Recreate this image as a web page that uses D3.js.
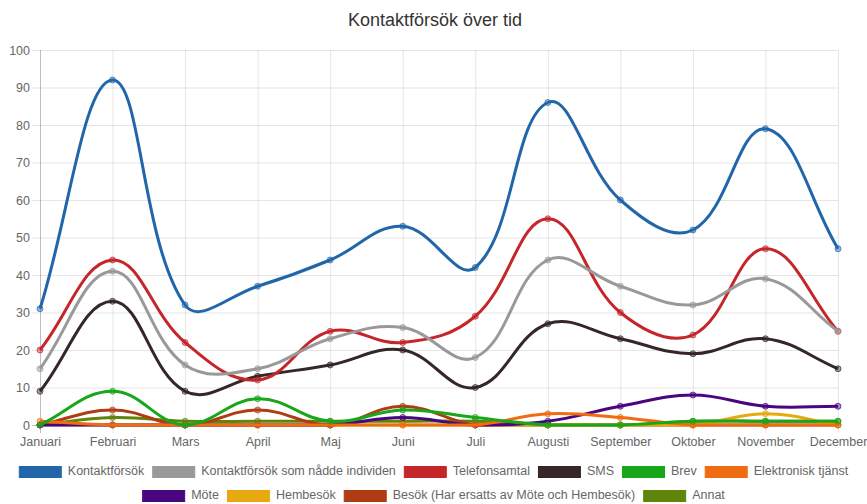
<!DOCTYPE html>
<html>
<head>
<meta charset="utf-8">
<script src="https://cdn.jsdelivr.net/npm/d3@7"></script>
<style>
  html, body { margin: 0; padding: 0; background: #fff; }
  svg { display: block; font-family: "Liberation Sans", Arial, Helvetica, sans-serif; }
</style>
</head>
<body>
<svg id="chart" width="867" height="504"></svg>
<script>
const title = "Kontaktförsök över tid";
const months = ["Januari","Februari","Mars","April","Maj","Juni","Juli","Augusti","September","Oktober","November","December"];
const yTicks = [0,10,20,30,40,50,60,70,80,90,100];

const seriesNames = ["Kontaktförsök","Kontaktförsök som nådde individen","Telefonsamtal","SMS","Brev","Elektronisk tjänst","Möte","Hembesök","Besök (Har ersatts av Möte och Hembesök)","Annat"];
const seriesColors = ["#2266aa","#999999","#c4262a","#352627","#18a71a","#f06c10","#4a0580","#e8a80f","#b03c14","#5f860a"];

const kontaktforsok   = [31, 92, 32, 37, 44, 53, 42, 86, 60, 52, 79, 47];
const naddeIndividen  = [15, 41, 16, 15, 23, 26, 18, 44, 37, 32, 39, 25];
const telefonsamtal   = [20, 44, 22, 12, 25, 22, 29, 55, 30, 24, 47, 25];
const sms             = [ 9, 33,  9, 13, 16, 20, 10, 27, 23, 19, 23, 15];
const brev            = [ 0,  9,  0,  7,  1,  4,  2,  0,  0,  1,  1,  1];
const elektronisk     = [ 1,  0,  0,  0,  0,  0,  0,  3,  2,  0,  0,  0];
const mote            = [ 0,  0,  0,  0,  0,  2,  0,  1,  5,  8,  5,  5];
const hembesok        = [ 0,  0,  0,  0,  0,  0,  0,  0,  0,  0,  3,  0];
const besok           = [ 0,  4,  0,  4,  0,  5,  0,  0,  0,  0,  0,  0];
const annat           = [ 0,  2,  1,  1,  1,  1,  1,  0,  0,  1,  1,  1];

const seriesValues = [kontaktforsok, naddeIndividen, telefonsamtal, sms, brev, elektronisk, mote, hembesok, besok, annat];

const svg = d3.select("#chart");
const W = 867;
const area = { left: 40, right: 838, top: 50, bottom: 425 };
const tickFont = 12.5;

const x = d3.scalePoint().domain(months).range([area.left, area.right]);
const y = d3.scaleLinear().domain([0, 100]).range([area.bottom, area.top]);

// Title
svg.append("text")
  .attr("x", 435).attr("y", 21)
  .attr("text-anchor", "middle").attr("dominant-baseline", "middle")
  .attr("font-size", 18).attr("fill", "#333")
  .text(title);

// Grid
const grid = svg.append("g");
grid.selectAll("line.h").data(yTicks).enter().append("line")
  .attr("x1", area.left - 8).attr("x2", area.right)
  .attr("y1", d => y(d) + 0.5).attr("y2", d => y(d) + 0.5)
  .attr("stroke", d => d === 0 ? "rgba(0,0,0,0.25)" : "rgba(0,0,0,0.1)").attr("stroke-width", 1);
grid.selectAll("line.v").data(months).enter().append("line")
  .attr("y1", area.top).attr("y2", area.bottom + 8)
  .attr("x1", d => x(d) + 0.5).attr("x2", d => x(d) + 0.5)
  .attr("stroke", (d, i) => i === 0 ? "rgba(0,0,0,0.25)" : "rgba(0,0,0,0.1)").attr("stroke-width", 1);

// Axes labels via d3 axes
const yAxis = d3.axisLeft(y).tickValues(yTicks).tickSize(0).tickPadding(10);
const gy = svg.append("g").attr("transform", `translate(${area.left},0)`).call(yAxis);
gy.select(".domain").remove();
gy.selectAll("text").attr("font-size", tickFont).attr("fill", "#666").attr("font-family", "Liberation Sans, Arial, sans-serif");

const xAxis = d3.axisBottom(x).tickSize(0).tickPadding(12);
const gx = svg.append("g").attr("transform", `translate(0,${area.bottom})`).call(xAxis);
gx.select(".domain").remove();
gx.selectAll("text").attr("font-size", tickFont).attr("fill", "#666").attr("font-family", "Liberation Sans, Arial, sans-serif");

// Chart.js-style spline path
function splinePath(pts, t) {
  const n = pts.length;
  const cps = pts.map((p, i) => {
    const prev = i > 0 ? pts[i - 1] : p;
    const next = i < n - 1 ? pts[i + 1] : p;
    const d01 = Math.hypot(p[0] - prev[0], p[1] - prev[1]);
    const d12 = Math.hypot(next[0] - p[0], next[1] - p[1]);
    let s01 = d01 / (d01 + d12), s12 = d12 / (d01 + d12);
    if (isNaN(s01)) s01 = 0;
    if (isNaN(s12)) s12 = 0;
    const fa = t * s01, fb = t * s12;
    const clampX = v => Math.max(area.left, Math.min(area.right, v));
    const clampY = v => Math.max(area.top, Math.min(area.bottom, v));
    return {
      prev: [clampX(p[0] - fa * (next[0] - prev[0])), clampY(p[1] - fa * (next[1] - prev[1]))],
      next: [clampX(p[0] + fb * (next[0] - prev[0])), clampY(p[1] + fb * (next[1] - prev[1]))]
    };
  });
  const path = d3.path();
  path.moveTo(pts[0][0], pts[0][1]);
  for (let i = 1; i < n; i++) {
    path.bezierCurveTo(cps[i - 1].next[0], cps[i - 1].next[1], cps[i].prev[0], cps[i].prev[1], pts[i][0], pts[i][1]);
  }
  return path.toString();
}

const seriesG = svg.append("g");
for (let s = seriesValues.length - 1; s >= 0; s--) {
  const pts = seriesValues[s].map((v, i) => [x(months[i]), y(v)]);
  const g = seriesG.append("g");
  g.append("path")
    .attr("d", splinePath(pts, 0.4))
    .attr("fill", "none")
    .attr("stroke", seriesColors[s])
    .attr("stroke-width", 3);
  g.selectAll("circle").data(seriesValues[s]).enter().append("circle")
    .attr("cx", (d, i) => x(months[i]))
    .attr("cy", d => y(d))
    .attr("r", 3)
    .attr("fill", d3.color(seriesColors[s]).copy({opacity: 0.45}))
    .attr("stroke", seriesColors[s])
    .attr("stroke-opacity", 0.7)
    .attr("stroke-width", 1);
}

// Legend
const rows = [[0,1,2,3,4,5],[6,7,8,9]];
const rowY = [472, 496];
const boxW = 43, boxH = 12, fs = 12.5, gap = 6, pad = 8;
const measure = svg.append("text").attr("font-size", fs).attr("visibility", "hidden");
function tw(s) { measure.text(s); return measure.node().getComputedTextLength(); }
const legend = svg.append("g");
rows.forEach((row, r) => {
  const widths = row.map(i => boxW + gap + tw(seriesNames[i]) + pad);
  const total = d3.sum(widths) - pad;
  let cx = (W - total) / 2;
  row.forEach((i, k) => {
    legend.append("rect")
      .attr("x", cx + 0.5).attr("y", rowY[r] - boxH / 2 + 0.5)
      .attr("width", boxW - 1).attr("height", boxH - 1)
      .attr("fill", seriesColors[i]).attr("stroke", seriesColors[i]).attr("stroke-width", 1);
    legend.append("text")
      .attr("x", cx + boxW + gap).attr("y", rowY[r])
      .attr("dominant-baseline", "middle")
      .attr("font-size", fs).attr("fill", "#666")
      .text(seriesNames[i]);
    cx += widths[k];
  });
});
measure.remove();
</script>
</body>
</html>
